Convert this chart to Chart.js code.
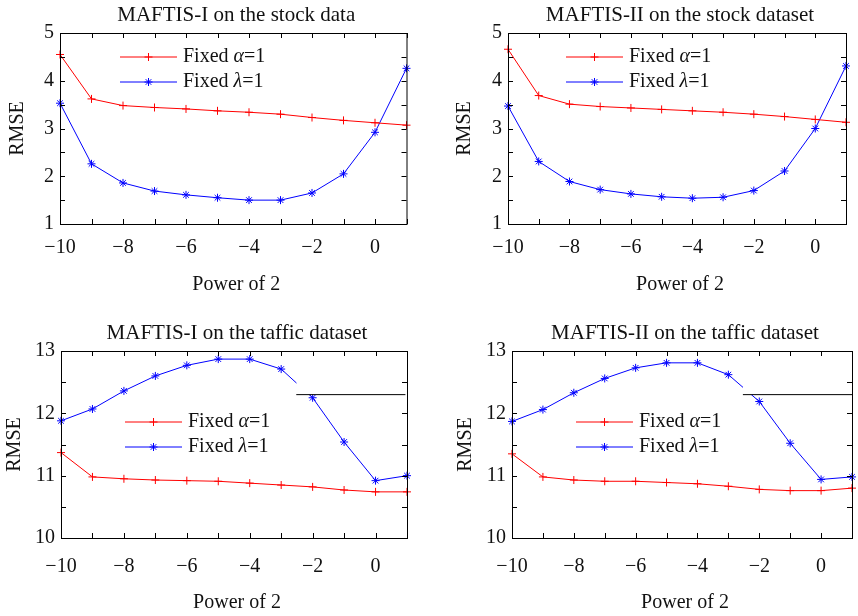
<!DOCTYPE html>
<html>
<head>
<meta charset="utf-8">
<script src="https://cdn.jsdelivr.net/npm/chart.js@4.4.1/dist/chart.umd.min.js"></script>
<style>
html, body { margin: 0; padding: 0; background: #fff; overflow: hidden; width: 858px; height: 616px; }
.panel { position: absolute; }
</style>
</head>
<body>
<div class="panel" style="left:0;top:0"><canvas id="c1" width="429" height="308"></canvas></div>
<div class="panel" style="left:429px;top:0"><canvas id="c2" width="429" height="308"></canvas></div>
<div class="panel" style="left:0;top:308px"><canvas id="c3" width="429" height="308"></canvas></div>
<div class="panel" style="left:429px;top:308px"><canvas id="c4" width="440" height="308"></canvas></div>
<script>
const powers = [-10, -9, -8, -7, -6, -5, -4, -3, -2, -1, 0, 1];

const stockI_alpha = [4.55, 3.62, 3.48, 3.44, 3.41, 3.37, 3.34, 3.30, 3.23, 3.17, 3.12, 3.07];
const stockI_lambda = [3.53, 2.26, 1.86, 1.69, 1.61, 1.55, 1.50, 1.50, 1.65, 2.05, 2.92, 4.26];
const stockII_alpha = [4.66, 3.69, 3.51, 3.46, 3.43, 3.40, 3.37, 3.34, 3.30, 3.25, 3.19, 3.13];
const stockII_lambda = [3.47, 2.31, 1.89, 1.72, 1.63, 1.57, 1.54, 1.56, 1.70, 2.11, 3.00, 4.31];
const trafficI_alpha = [11.37, 10.98, 10.95, 10.93, 10.92, 10.91, 10.88, 10.85, 10.82, 10.77, 10.74, 10.74];
const trafficI_lambda = [11.88, 12.07, 12.36, 12.60, 12.77, 12.87, 12.87, 12.71, 12.25, 11.54, 10.92, 11.00];
const trafficII_alpha = [11.35, 10.98, 10.93, 10.91, 10.91, 10.89, 10.87, 10.83, 10.78, 10.76, 10.76, 10.80];
const trafficII_lambda = [11.87, 12.06, 12.33, 12.56, 12.73, 12.81, 12.81, 12.62, 12.19, 11.52, 10.94, 10.98];

// leftover legend-box edge in the traffic panels (x from, x to, y)
const trafficI_edge = [-2.52, 0.95, 12.3];
const trafficII_edge = [-2.53, 1.3, 12.3];

const FONT = '"Liberation Serif", "Times New Roman", serif';
const minus = v => (v < 0 ? '\u2212' + Math.abs(v) : String(v));

function drawMarker(ctx, style, x, y, r) {
    ctx.beginPath();
    ctx.moveTo(x - r, y); ctx.lineTo(x + r, y);
    ctx.moveTo(x, y - r); ctx.lineTo(x, y + r);
    if (style === 'star') {
        const d = r * 0.7;
        ctx.moveTo(x - d, y - d); ctx.lineTo(x + d, y + d);
        ctx.moveTo(x - d, y + d); ctx.lineTo(x + d, y - d);
    }
    ctx.stroke();
}

const matlabAxes = {
    id: 'matlabAxes',
    afterDraw(chart, args, o) {
        const { ctx, chartArea: a, scales: { x, y } } = chart;
        ctx.save();
        ctx.strokeStyle = '#000';
        ctx.lineWidth = 1;
        ctx.strokeRect(a.left + 0.5, a.top + 0.5, a.right - a.left, a.bottom - a.top);

        // inward ticks on all four sides
        ctx.beginPath();
        for (let v = x.min; v <= x.max + 1e-9; v += 1) {
            const px = Math.round(x.getPixelForValue(v)) + 0.5;
            ctx.moveTo(px, a.bottom); ctx.lineTo(px, a.bottom - 5);
            ctx.moveTo(px, a.top); ctx.lineTo(px, a.top + 5);
        }
        for (let v = y.min; v <= y.max + 1e-9; v += 0.5) {
            const py = Math.round(y.getPixelForValue(v)) + 0.5;
            ctx.moveTo(a.left, py); ctx.lineTo(a.left + 5, py);
            ctx.moveTo(a.right, py); ctx.lineTo(a.right - 5, py);
        }
        ctx.stroke();

        // titles
        ctx.fillStyle = '#111';
        ctx.textAlign = 'center';
        ctx.textBaseline = 'middle';
        const cx = (a.left + a.right) / 2 + 3;
        ctx.font = '21px ' + FONT;
        ctx.fillText(o.title, cx, a.top - 18);
        ctx.font = '20px ' + FONT;
        ctx.fillText('Power of 2', cx, a.bottom + o.xlabelGap);
        ctx.save();
        ctx.translate(a.left - o.ylabelGap, (a.top + a.bottom) / 2);
        ctx.rotate(-Math.PI / 2);
        ctx.fillText('RMSE', 0, 0);
        ctx.restore();

        // legend inside the axes
        const rows = [
            { color: '#ff0000', style: 'cross', sym: '\u03b1' },
            { color: '#0000ff', style: 'star', sym: '\u03bb' }
        ];
        rows.forEach((r, i) => {
            const ly = a.top + o.legendY + i * 25;
            const lx = a.left + o.legendX;
            ctx.strokeStyle = r.color;
            ctx.lineWidth = 1;
            ctx.beginPath();
            ctx.moveTo(lx, ly); ctx.lineTo(lx + 57, ly);
            ctx.stroke();
            drawMarker(ctx, r.style, lx + 28.5, ly, 4);
            ctx.fillStyle = '#111';
            ctx.textAlign = 'left';
            let tx = lx + 63;
            ctx.font = '20px ' + FONT;
            ctx.fillText('Fixed ', tx, ly);
            tx += ctx.measureText('Fixed ').width;
            ctx.font = 'italic 20px ' + FONT;
            ctx.fillText(r.sym, tx, ly);
            tx += ctx.measureText(r.sym).width;
            ctx.font = '20px ' + FONT;
            ctx.fillText('=1', tx, ly);
        });
        ctx.restore();
    }
};

function makeChart(id, cfg) {
    const datasets = [
        {
            label: 'Fixed \u03b1=1',
            data: powers.map((p, i) => ({ x: p, y: cfg.alpha[i] })),
            borderColor: '#ff0000', backgroundColor: '#ff0000',
            borderWidth: 1, pointStyle: 'cross', pointRadius: 4, pointBorderWidth: 1,
            tension: 0, clip: false, order: 1
        },
        {
            label: 'Fixed \u03bb=1',
            data: powers.map((p, i) => ({ x: p, y: cfg.lambda[i] })),
            borderColor: '#0000ff', backgroundColor: '#0000ff',
            borderWidth: 1, pointStyle: 'star', pointRadius: 4, pointBorderWidth: 1,
            tension: 0, clip: false, order: 2
        }
    ];
    if (cfg.edge) {
        datasets.push({
            data: [{ x: cfg.edge[0], y: cfg.edge[2] }, { x: cfg.edge[1], y: cfg.edge[2] }],
            borderColor: '#000', borderWidth: 1, pointRadius: 0,
            fill: 'end', backgroundColor: '#ffffff', order: 0
        });
    }
    return new Chart(document.getElementById(id), {
        type: 'line',
        data: { datasets },
        options: {
            responsive: false,
            animation: false,
            layout: { padding: cfg.pad },
            plugins: {
                legend: { display: false },
                tooltip: { enabled: false },
                matlabAxes: cfg.labels
            },
            scales: {
                x: {
                    type: 'linear', min: -10, max: 1,
                    grid: { display: false, drawTicks: false },
                    border: { display: false },
                    ticks: {
                        stepSize: 1, autoSkip: false, maxRotation: 0, padding: cfg.xTickPad,
                        color: '#111', font: { family: FONT, size: 20 },
                        callback: v => (v % 2 === 0 && v <= 0 ? minus(v) : '')
                    },
                    afterFit: s => { s.height = cfg.xHeight; }
                },
                y: {
                    min: cfg.yMin, max: cfg.yMax,
                    grid: { display: false, drawTicks: false },
                    border: { display: false },
                    ticks: {
                        stepSize: 0.5, autoSkip: false, padding: 6,
                        color: '#111', font: { family: FONT, size: 20 },
                        callback: v => (Number.isInteger(v) ? String(v) : '')
                    },
                    afterFit: s => { s.width = cfg.yWidth; }
                }
            }
        },
        plugins: [matlabAxes]
    });
}

makeChart('c1', {
    alpha: stockI_alpha, lambda: stockI_lambda, yMin: 1, yMax: 5,
    pad: { left: 0, top: 33, right: 22.5, bottom: 0 }, yWidth: 60, xHeight: 84, xTickPad: 12,
    labels: { title: 'MAFTIS-I on the stock data', xlabelGap: 61, ylabelGap: 42, legendX: 60, legendY: 24 }
});
makeChart('c2', {
    alpha: stockII_alpha, lambda: stockII_lambda, yMin: 1, yMax: 5,
    pad: { left: 0, top: 33, right: 3, bottom: 0 }, yWidth: 79, xHeight: 84, xTickPad: 12,
    labels: { title: 'MAFTIS-II on the stock dataset', xlabelGap: 61, ylabelGap: 43, legendX: 58, legendY: 24 }
});
makeChart('c3', {
    alpha: trafficI_alpha, lambda: trafficI_lambda, yMin: 10, yMax: 13, edge: trafficI_edge,
    pad: { left: 0, top: 43, right: 22, bottom: 0 }, yWidth: 61, xHeight: 78, xTickPad: 17,
    labels: { title: 'MAFTIS-I on the taffic dataset', xlabelGap: 65, ylabelGap: 46, legendX: 64, legendY: 71 }
});
makeChart('c4', {
    alpha: trafficII_alpha, lambda: trafficII_lambda, yMin: 10, yMax: 13, edge: trafficII_edge,
    pad: { left: 0, top: 43, right: 9, bottom: 0 }, yWidth: 83, xHeight: 78, xTickPad: 17,
    labels: { title: 'MAFTIS-II on the taffic dataset', xlabelGap: 65, ylabelGap: 46, legendX: 64, legendY: 71 }
});
</script>
</body>
</html>
